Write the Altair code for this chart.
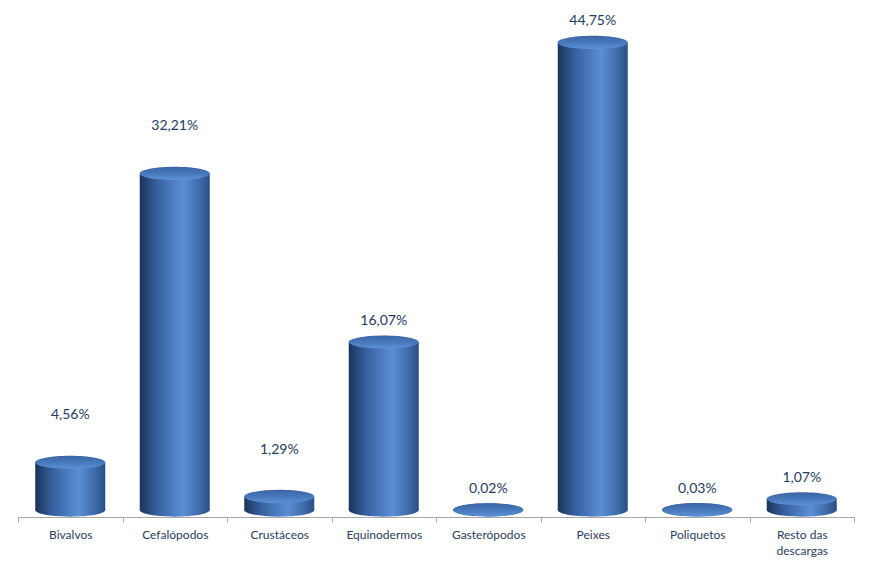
import altair as alt
import pandas as pd

# ---- data ----
categories = ["Bivalvos", "Cefalópodos", "Crustáceos", "Equinodermos",
              "Gasterópodos", "Peixes", "Poliquetos", "Resto das descargas"]
values = [4.56, 32.21, 1.29, 16.07, 0.02, 44.75, 0.03, 1.07]

labels = [f"{v:.2f}".replace(".", ",") + "%" for v in values]
df = pd.DataFrame({"cat": categories, "val": values, "lab": labels})

# ---- layout / style ----
W, H = 836, 507
BAR_FRAC = 0.67
BAR_PX = W / len(categories) * BAR_FRAC
ELLIPSE = "M -1 0 A 1 0.19 0 1 0 1 0 A 1 0.19 0 1 0 -1 0 Z"
HIGH_LABELS = ["Bivalvos", "Cefalópodos", "Crustáceos"]  # Excel placed these labels higher

side_grad = alt.Gradient(
    gradient="linear", x1=0, y1=0, x2=1, y2=0,
    stops=[alt.GradientStop(offset=0, color="#1b335b"),
           alt.GradientStop(offset=0.25, color="#3761a0"),
           alt.GradientStop(offset=0.62, color="#5a8fd4"),
           alt.GradientStop(offset=0.85, color="#3f6caa"),
           alt.GradientStop(offset=1, color="#2a4e85")])
top_grad = alt.Gradient(
    gradient="linear", x1=0, y1=0, x2=0, y2=1,
    stops=[alt.GradientStop(offset=0, color="#3a64a2"),
           alt.GradientStop(offset=0.6, color="#4a7cc0"),
           alt.GradientStop(offset=1, color="#5d92d6")])

x = alt.X("cat:N", sort=categories, title=None,
          scale=alt.Scale(paddingInner=0, paddingOuter=0),
          axis=alt.Axis(labelAngle=0, tickBand="extent", tickSize=5,
                        domainColor="#a6a6a6", tickColor="#a6a6a6",
                        labelColor="#2a3d5e", labelFont="Lato", labelFontSize=12,
                        labelPadding=7, labelLineHeight=16,
                        labelExpr="datum.value == 'Resto das descargas' ? ['Resto das', 'descargas'] : datum.value"))
yscale = alt.Scale(domain=[-0.67, 47.85], nice=False, zero=False)
y = alt.Y("val:Q", scale=yscale, axis=None)

base = alt.Chart(df)

bottom_cap = base.mark_point(shape=ELLIPSE, size=BAR_PX ** 2, filled=True,
                             fill=side_grad, strokeWidth=0, opacity=1).encode(
    x=x, y=alt.Y("zero:Q", scale=yscale, axis=None)).transform_calculate(zero="0")

body = base.mark_bar(width=alt.RelativeBandSize(BAR_FRAC), fill=side_grad).encode(
    x=x, y=y, y2=alt.datum(0))

top_cap = base.mark_point(shape=ELLIPSE, size=BAR_PX ** 2, filled=True,
                          fill=top_grad, strokeWidth=0, opacity=1).encode(x=x, y=y)

text_style = dict(font="Lato", fontSize=14, color="#243b60", baseline="middle")
lab_high = base.transform_filter(
    alt.FieldOneOfPredicate(field="cat", oneOf=HIGH_LABELS)
).mark_text(dy=-47, **text_style).encode(x=x, y=y, text="lab:N")
lab_low = base.transform_filter(
    {"not": alt.FieldOneOfPredicate(field="cat", oneOf=HIGH_LABELS)}
).mark_text(dy=-21, **text_style).encode(x=x, y=y, text="lab:N")

chart = alt.layer(bottom_cap, body, top_cap, lab_high, lab_low).properties(
    width=W, height=H,
    autosize=alt.AutoSizeParams(type="none"),
    padding={"left": 10, "top": 2, "right": 17, "bottom": 60},
    background="white",
).configure_view(stroke=None).configure_axis(grid=False)

chart.save("out.html", embed_options={"renderer": "svg", "actions": False})
